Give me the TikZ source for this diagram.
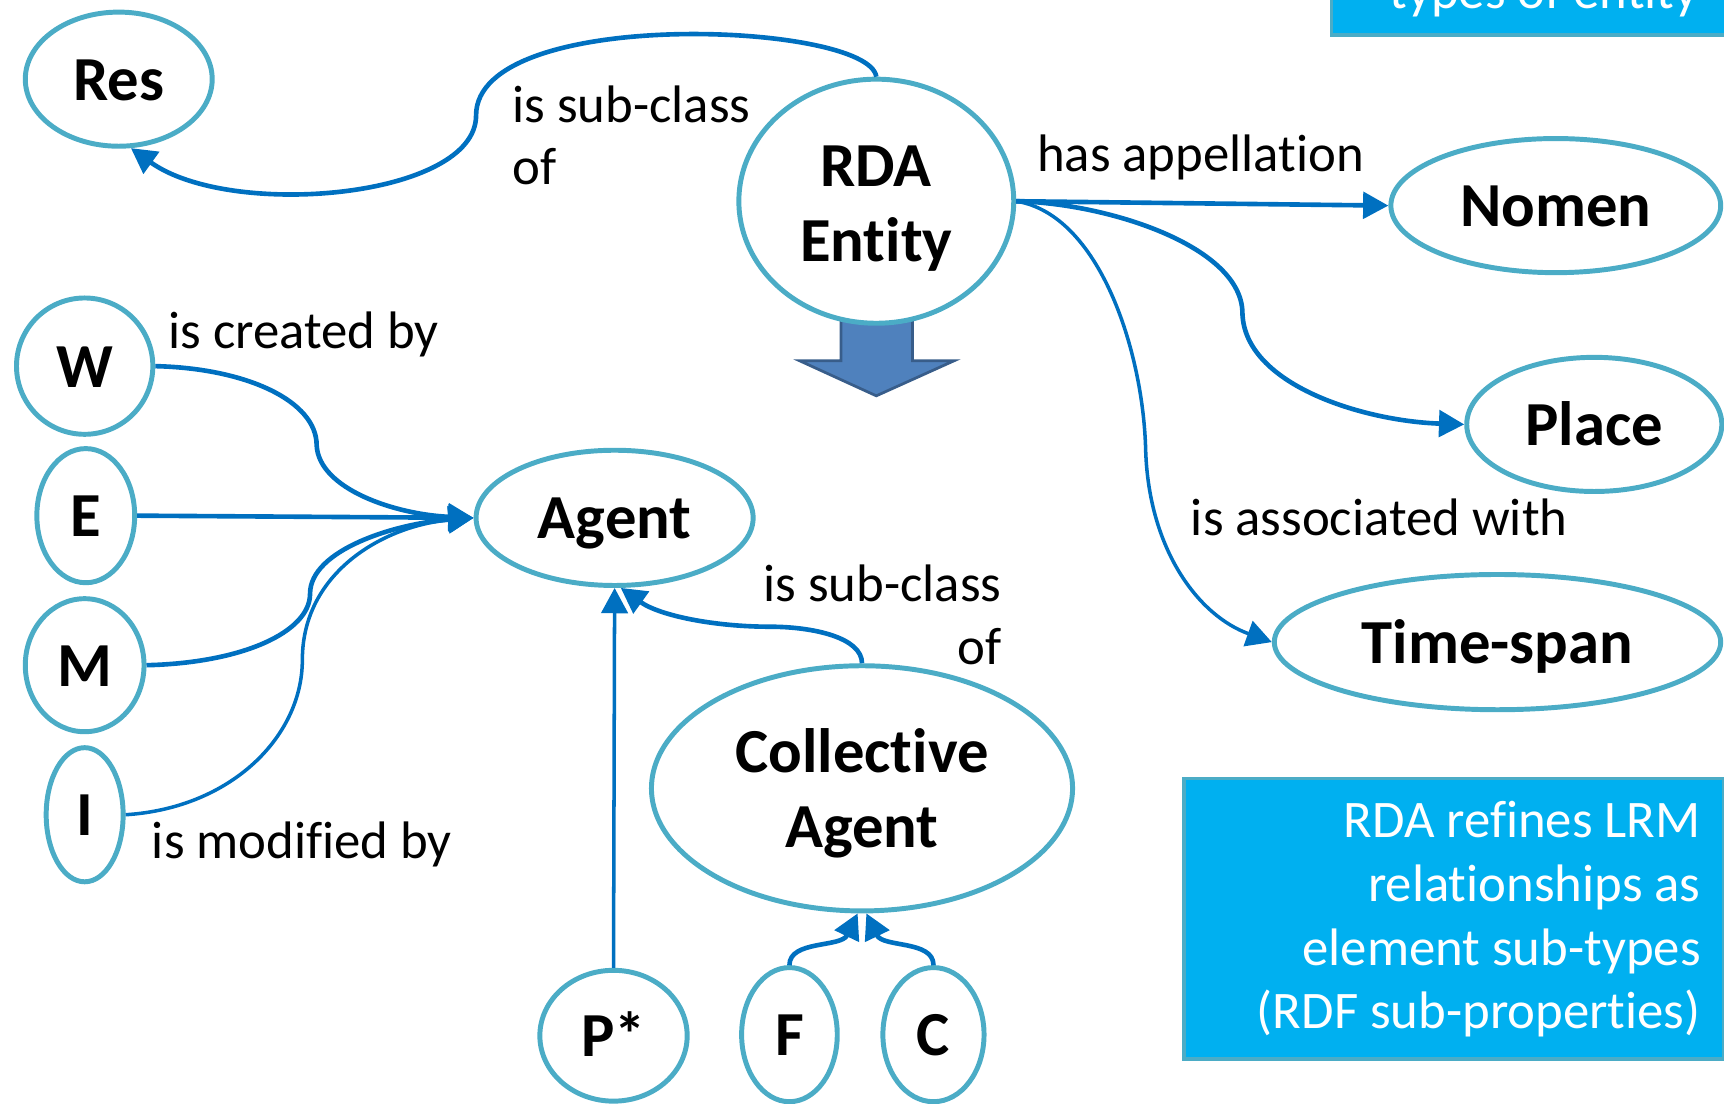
\documentclass[tikz,border=0pt]{standalone}
\usepackage{fontspec}
\setmainfont{Carlito}[RawFeature={-liga;-clig;-calt;-dlig}]
\usetikzlibrary{shapes.geometric,arrows.meta}
\definecolor{entc}{RGB}{75,172,198}
\definecolor{connc}{RGB}{0,112,192}
\definecolor{boxfill}{RGB}{0,176,240}
\definecolor{blkfill}{RGB}{79,129,189}
\definecolor{blkline}{RGB}{56,93,138}
\begin{document}
\begin{tikzpicture}[x=1pt,y=-1pt,
  ent/.style={ellipse, draw=entc, line width=4.5pt, fill=white, inner sep=0pt,
    font=\fontsize{57}{68}\selectfont\bfseries, text height=51pt, text depth=13pt},
  enttxt/.style={inner sep=0pt, anchor=base, font=\fontsize{57}{68}\selectfont\bfseries},
  lbl/.style={inner sep=0pt, font=\fontsize{48}{58}\selectfont},
  boxtxt/.style={inner sep=0pt, anchor=base east, text=white, font=\fontsize{48}{58}\selectfont},
  conn/.style={draw=connc, line width=4.2pt, -{Triangle[length=23pt,width=24pt]}},
  thinconn/.style={conn, line width=3.2pt},
  infobox/.style={rectangle, draw=entc, fill=boxfill, line width=3.5pt, inner sep=0pt},
]
\useasboundingbox (0,0) rectangle (1568,1004);
\clip (0,0) rectangle (1568,1004);

% info boxes
\node[infobox, minimum width=362pt, minimum height=100pt] (topbox) at (1392,-18) {};
\node[boxtxt] (toptxt) at (1545,8) {types of entity};
\node[infobox, minimum width=491pt, minimum height=255pt] (infob) at (1322.5,835.5) {};
\node[boxtxt] (b1) at (1547,762) {RDA refines LRM};
\node[boxtxt] (b2) at (1547,820) {relationships as};
\node[boxtxt] (b3) at (1547,878) {element sub-types};
\node[boxtxt] (b4) at (1547,935) {(RDF sub-properties)};

% block arrow
\draw[fill=blkfill, draw=blkline, line width=2.5pt, line join=miter]
  (765,280) -- (830,280) -- (830,328) -- (868,328) -- (797,360) -- (727,328) -- (765,328) -- cycle;

% entities
\node[ent, minimum width=170pt, minimum height=122pt] (res) at (108,72) {Res};
\node[ent, minimum width=250pt, minimum height=222pt] (rda) at (797,183) {};
\node[enttxt] (rdat1) at (797,170) {RDA};
\node[enttxt] (rdat2) at (797,238) {Entity};
\node[ent, minimum width=300pt, minimum height=122pt] (nomen) at (1415,187) {Nomen};
\node[ent, minimum width=232pt, minimum height=122pt] (place) at (1450,386) {Place};
\node[ent, minimum width=406pt, minimum height=123pt] (timespan) at (1362,584) {Time-span};
\node[ent, minimum width=124pt, minimum height=124pt] (w) at (77,333) {W};
\node[ent, minimum width=89pt, minimum height=122pt] (e) at (78,469) {E};
\node[ent, minimum width=108pt, minimum height=121pt] (m) at (77,605) {M};
\node[ent, minimum width=70pt, minimum height=122pt] (i) at (77,741) {I};
\node[ent, minimum width=252pt, minimum height=123pt] (agent) at (559,471) {Agent};
\node[ent, minimum width=383pt, minimum height=223pt] (coll) at (784,717) {};
\node[enttxt] (collt1) at (784,703) {Collective};
\node[enttxt] (collt2) at (784,771) {Agent};
\node[ent, minimum width=134pt, minimum height=119pt] (pstar) at (558,942) {P*};
\node[ent, minimum width=87pt, minimum height=122pt] (f) at (718,941) {F};
\node[ent, minimum width=92pt, minimum height=122pt] (c) at (849,941) {C};

% labels
\node[lbl, anchor=base west] (l1a) at (466,111) {is sub-class};
\node[lbl, anchor=base west] (l1b) at (466,168) {of};
\node[lbl, anchor=base west] (l2) at (943,156) {has appellation};
\node[lbl, anchor=base west] (l3) at (1083,487) {is associated with};
\node[lbl, anchor=base west] (l4) at (153,317) {is created by};
\node[lbl, anchor=base west] (l5) at (138,781) {is modified by};
\node[lbl, anchor=base east] (l6a) at (911,547) {is sub-class};
\node[lbl, anchor=base east] (l6b) at (911,604) {of};

% connectors
\draw[conn] (rda.north) .. controls (790,20) and (433,5) .. (433,105)
  .. controls (433,180) and (210,200) .. (res.-80);
\draw[conn] (rda.east) -- (nomen.west);
\draw[conn] (rda.east) .. controls (1010,185) and (1130,225) .. (1130,285)
  .. controls (1132,350) and (1240,383) .. (place.west);
\draw[thinconn] (rda.east) .. controls (1000,195) and (1040,320) .. (1042,410)
  .. controls (1045,500) and (1090,560) .. (timespan.west);
\draw[conn] (w.east) .. controls (225,335) and (288,365) .. (288,405)
  .. controls (290,445) and (360,468) .. (agent.west);
\draw[conn] (e.east) -- (agent.west);
\draw[conn] (m.east) .. controls (220,603) and (282,575) .. (282,540)
  .. controls (282,500) and (360,476) .. (agent.west);
\draw[thinconn] (i.east) .. controls (210,735) and (275,670) .. (275,600)
  .. controls (275,520) and (350,478) .. (agent.west);
\draw[conn] (coll.north) .. controls (784,580) and (740,570) .. (700,570)
  .. controls (650,570) and (600,560) .. (agent.-85);
\draw[thinconn] (pstar.north) -- (agent.south);
\draw[conn] (f.north) .. controls (718,855) and (765,862) .. (coll.-92);
\draw[conn] (c.north) .. controls (849,855) and (803,862) .. (coll.-88);
\end{tikzpicture}
\end{document}
